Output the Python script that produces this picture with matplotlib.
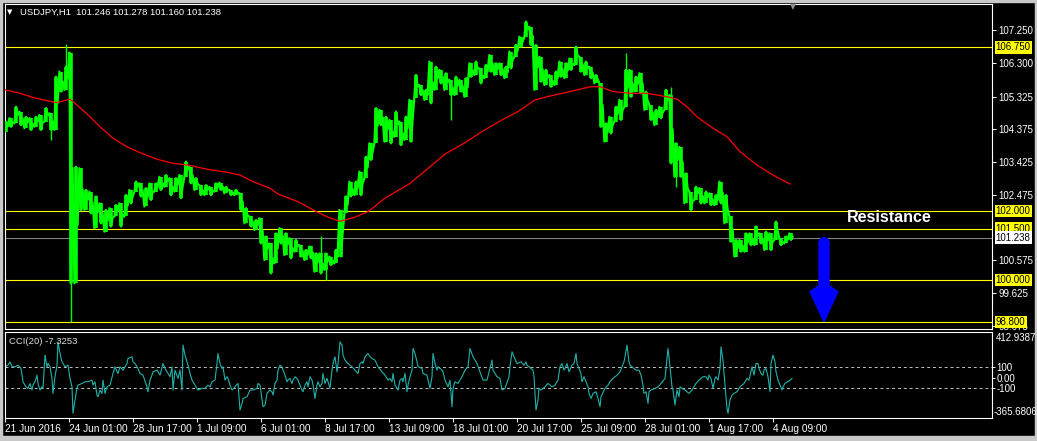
import matplotlib
matplotlib.use('Agg')
import matplotlib.pyplot as plt
from matplotlib.patches import FancyArrow, Ellipse, Rectangle
import numpy as np

plt.rcParams['font.family'] = ['Liberation Sans', 'DejaVu Sans']

# ---- data (USDJPY H1, 5-hour groups of bars) ----
bar_hi = [104.60, 104.70, 105.03, 104.89, 104.74, 104.70, 104.74, 104.79, 104.99, 104.84,
          105.90, 106.05, 106.19, 106.60, 103.29, 103.25, 102.62, 102.57, 102.43, 102.23,
          102.04, 102.09, 102.18, 102.23, 102.47, 102.62, 102.86, 102.81, 102.67, 102.81,
          102.81, 103.00, 103.05, 102.96, 102.96, 103.05, 103.44, 103.29, 102.96, 102.76,
          102.76, 102.71, 102.81, 102.83, 102.71, 102.62, 102.62, 102.52, 102.09, 101.85,
          101.75, 101.80, 101.27, 101.07, 101.36, 101.51, 101.36, 101.22, 101.17, 101.02,
          100.88, 100.98, 100.78, 100.78, 100.78, 100.69, 100.88, 102.04, 102.43, 102.86,
          102.86, 103.15, 103.58, 103.97, 104.99, 104.94, 104.74, 104.65, 104.89, 104.60,
          104.74, 105.23, 105.95, 105.66, 105.52, 106.34, 106.19, 106.10, 106.00, 105.81,
          105.90, 105.81, 105.86, 106.29, 106.34, 106.14, 106.24, 106.53, 106.29, 106.29,
          106.19, 106.63, 106.82, 107.06, 107.50, 107.35, 106.82, 106.48, 106.10, 105.95,
          106.05, 106.34, 106.29, 106.43, 106.77, 106.48, 106.34, 106.19, 105.95, 105.71,
          104.55, 104.74, 105.03, 105.23, 106.10, 106.10, 105.90, 106.00, 105.47, 105.08,
          104.94, 105.03, 105.52, 105.37, 103.97, 103.87, 103.10, 102.57, 102.71, 102.67,
          102.57, 102.52, 102.47, 102.86, 102.47, 101.85, 101.17, 101.17, 101.36, 101.36,
          101.56, 101.36, 101.41, 101.36, 101.70, 101.22, 101.27, 101.36]
bar_lo = [104.31, 104.45, 104.55, 104.50, 104.41, 104.36, 104.45, 104.36, 104.60, 104.36,
          104.36, 105.47, 105.52, 99.91, 99.91, 102.04, 102.04, 101.94, 101.51, 101.65,
          101.41, 101.56, 101.85, 101.56, 101.85, 102.23, 102.57, 102.43, 102.14, 102.33,
          102.57, 102.62, 102.71, 102.47, 102.57, 102.38, 103.00, 102.81, 102.62, 102.47,
          102.47, 102.47, 102.57, 102.62, 102.52, 102.47, 102.47, 102.04, 101.65, 101.56,
          101.46, 101.07, 100.59, 100.20, 100.49, 101.07, 100.73, 100.64, 100.83, 100.69,
          100.59, 100.64, 100.25, 100.20, 100.30, 100.44, 100.49, 100.69, 101.94, 102.43,
          102.47, 102.47, 102.96, 103.49, 103.97, 104.50, 104.02, 103.97, 104.16, 103.92,
          104.07, 104.02, 105.28, 105.37, 105.23, 105.13, 105.52, 105.71, 105.52, 105.37,
          105.37, 105.47, 105.32, 105.90, 105.95, 105.71, 105.86, 106.05, 105.95, 105.95,
          105.86, 106.14, 106.48, 106.77, 107.06, 106.82, 105.52, 105.76, 105.66, 105.61,
          105.66, 105.90, 105.86, 106.10, 106.24, 106.05, 105.95, 105.86, 105.71, 104.45,
          104.02, 104.26, 104.60, 104.65, 105.03, 105.32, 105.47, 105.42, 104.94, 104.65,
          104.50, 104.70, 104.94, 103.39, 103.00, 103.00, 102.23, 102.04, 102.33, 102.23,
          102.23, 102.18, 102.18, 102.23, 101.65, 101.12, 100.69, 100.83, 100.83, 101.02,
          101.02, 101.07, 100.88, 100.88, 101.17, 101.02, 101.07, 101.17]

# thin wicks reaching beyond a group's body
spike_grp = [9, 12, 13, 63, 64, 89, 124, 133, 134]
spike_val = [104.07, 106.85, 98.80, 101.27, 100.01, 104.65, 106.58, 105.61, 102.71]

# moving average (red)
ma_idx = [0, 15, 28, 38, 52, 65, 72, 85, 95, 108, 122, 135, 152, 168, 183, 202, 222, 235,
          248, 265, 273, 293, 310, 323, 335, 350, 363, 380, 405, 427, 440, 460, 477, 497,
          513, 530, 545, 565, 585, 595, 608, 625, 642, 662, 672, 682, 692, 708, 722, 735,
          752, 768, 785]
ma_val = [105.52, 105.42, 105.30, 105.23, 105.15, 105.25, 105.08, 104.74, 104.45, 104.12,
          103.87, 103.70, 103.51, 103.39, 103.34, 103.22, 103.13, 103.05, 102.86, 102.67,
          102.50, 102.28, 102.01, 101.83, 101.71, 101.83, 101.99, 102.38, 102.81, 103.34,
          103.66, 103.99, 104.31, 104.65, 104.89, 105.23, 105.34, 105.47, 105.61, 105.61,
          105.47, 105.42, 105.42, 105.32, 105.25, 105.03, 104.74, 104.41, 104.16, 103.73,
          103.34, 103.05, 102.79]

# CCI(20)
cci_idx = [0, 3, 5, 7, 10, 13, 16, 18, 21, 23,
           25, 27, 28, 30, 32, 33, 35, 37, 38, 40,
           42, 43, 45, 47, 48, 50, 52, 53, 55, 57,
           60, 63, 65, 67, 68, 70, 72, 73, 77, 80,
           83, 87, 88, 90, 92, 93, 95, 97, 98, 100,
           102, 105, 108, 110, 112, 113, 115, 118, 122, 123,
           127, 128, 130, 133, 135, 138, 142, 143, 145, 147,
           148, 152, 155, 158, 160, 162, 165, 167, 168, 170,
           173, 175, 177, 178, 180, 183, 185, 187, 190, 193,
           197, 200, 203, 205, 207, 210, 212, 213, 215, 217,
           218, 220, 222, 223, 225, 227, 230, 233, 235, 237,
           238, 242, 245, 248, 252, 253, 255, 257, 258, 260,
           262, 265, 267, 268, 270, 272, 273, 275, 277, 278,
           280, 282, 283, 285, 287, 288, 290, 292, 293, 297,
           298, 300, 302, 303, 305, 307, 308, 310, 312, 313,
           315, 317, 318, 320, 322, 325, 327, 328, 330, 332,
           333, 335, 337, 338, 340, 343, 347, 350, 353, 355,
           357, 358, 360, 363, 365, 367, 370, 373, 377, 380,
           383, 385, 387, 388, 390, 393, 395, 397, 398, 400,
           402, 403, 405, 407, 408, 410, 412, 413, 417, 418,
           422, 425, 427, 428, 430, 432, 433, 437, 438, 440,
           443, 445, 447, 448, 450, 453, 457, 460, 463, 465,
           468, 472, 475, 478, 482, 487, 488, 492, 495,
           497, 500, 504, 505, 507, 509, 512, 516, 519, 521,
           522, 526, 528, 529, 531, 533, 534, 536, 540, 543,
           547, 550, 553, 555, 557, 559, 560, 562, 564, 567,
           569, 571, 572, 576, 577, 579, 581, 583, 584, 586,
           588, 591, 593, 595, 596, 600, 603, 605, 608, 612,
           615, 619, 620, 622, 624, 625, 627, 631, 634, 636,
           638, 639, 641, 643, 644, 646, 650, 653, 656, 660,
           662, 663, 665, 667, 668, 670, 672, 674, 675, 677,
           680, 684, 687, 691, 694, 698, 701, 703, 704, 706,
           708, 710, 711, 713, 715, 716, 718, 720, 722, 723,
           725, 727, 729, 732, 735, 739, 742, 744, 747, 749,
           751, 753, 754, 756, 758, 759, 761, 763, 765, 766,
           768, 770, 771, 773, 775, 777, 778, 780, 782, 783,
           785, 787]
cci_val = [105, 120, 152, 105, 105, 120, 89, -38, -86, -101,
           -54, -117, -70, -38, 25, -54, -117, -86, -101, 216,
           105, 136, 105, -6, -149, 10, 120, 342, 231, 152,
           105, 120, -6, -86, -339, -212, -101, -70, -54, -38,
           -38, -22, -70, -38, -165, -181, -117, -149, -22, -149,
           -86, -70, 41, 105, 57, 41, 105, 73, 136, 184,
           200, 152, 136, 89, 41, 25, -86, -133, -22, 25,
           57, 73, 25, 136, 89, 57, 10, 105, -117, 73,
           -6, 73, -117, 311, 216, 120, 41, -22, -70, -117,
           -101, -101, -70, -86, -38, -22, 136, 231, 136, 89,
           105, -22, 10, -6, -70, -117, -86, -54, -307, -244,
           -197, -181, -117, -117, -101, -54, -70, -212, -276, -260,
           -149, -117, -133, -165, -54, -22, 73, 120, 105, 73,
           25, -38, -22, -6, -54, -22, 10, -6, -22, -117,
           -133, -70, -38, -86, 10, -22, -70, -197, -70, -38,
           -86, -54, 41, -54, -6, -101, 73, 136, 200, 57,
           136, 342, 311, 216, 168, 136, 105, 73, 41, 136,
           152, 136, 200, 231, 200, 184, 168, 105, 57, 25,
           -22, -6, -38, 41, -70, -117, -22, -6, -38, 41,
           -133, -70, 10, 73, 279, 231, 152, 105, 89, 41,
           25, -101, 10, 231, 136, 73, 105, 73, 57, -22,
           -86, -22, -276, -101, -38, -54, 10, 73, 105, 279,
           200, 136, 57, -22, -22, 168, 73, 10, -6,
           -117, -101, 10, 105, 247, 200, 136, 152, 120, 152,
           120, 89, 73, 10, -307, -212, -101, -117, -86, -54,
           -86, -70, -22, 105, 136, 73, 89, 136, 57, 120,
           136, 231, 136, 41, -38, 10, -38, -86, -149, -197,
           -149, -133, -197, -276, -181, -101, -70, -38, -6, 25,
           57, 152, 200, 311, 152, 120, 105, 73, 73, 25,
           -70, -149, -133, -244, -133, -117, -101, -86, -54, -6,
           184, 279, 105, -86, -117, -260, -117, -181, -86, -101,
           -117, -149, -117, -54, -22, 10, 10, -22, 25, -6,
           -101, -6, 10, -22, 89, 295, 168, -70, -292, -339,
           -212, -165, -149, -133, -86, -54, -6, -22, 105, 25,
           136, 136, 89, 41, 25, 73, 89, 10, -133, 136,
           216, 152, 57, -22, -70, -117, -86, -54, -38, -38,
           -22, -7]

levels = [106.750, 102.000, 101.500, 100.000, 98.800]
bid = 101.238
price_ticks = [98.675, 99.625, 100.575, 102.475, 103.425, 104.375, 105.325, 106.300, 107.250]
time_idx = [0, 64, 128, 192, 256, 320, 384, 448, 512, 576, 640, 704, 768]
time_lbl = ['21 Jun 2016', '24 Jun 01:00', '28 Jun 17:00', '1 Jul 09:00', '6 Jul 01:00',
            '8 Jul 17:00', '13 Jul 09:00', '18 Jul 01:00', '20 Jul 17:00', '25 Jul 09:00',
            '28 Jul 01:00', '1 Aug 17:00', '4 Aug 09:00']

# ---- figure ----
W, H = 1037, 441
fig = plt.figure(figsize=(W / 100, H / 100), dpi=100, facecolor='black')


def fx(px):
    return px / W


def fy(py):
    return 1 - py / H


ax = fig.add_axes([fx(4.5), fy(329.3), fx(992.3) - fx(4.5), fy(4.3) - fy(329.3)])
ax2 = fig.add_axes([fx(4.5), fy(418.3), fx(992.3) - fx(4.5), fy(331.7) - fy(418.3)])

for a in (ax, ax2):
    a.set_facecolor('black')
    a.set_xlim(-0.5, 987.3)
    for s in a.spines.values():
        s.set_color('white')
        s.set_linewidth(0.8)

# main price panel
ax.set_ylim(98.58, 108.0)
bar_x = np.arange(len(bar_hi)) * 5 + 1
for lv in levels:
    ax.axhline(lv, color='#ffff00', lw=0.8, zorder=1)
ax.axhline(bid, color='#808080', lw=0.8, zorder=1)

hi = np.array(bar_hi)
lo = np.array(bar_lo)
green = '#00ff00'
ax.vlines(bar_x, lo, hi, color=green, lw=2.6, zorder=3)
# zig-zag through each group's range so neighbouring groups join like hourly bars
zx = np.column_stack([bar_x - 1.6, bar_x, bar_x + 1.6]).ravel()
up = np.arange(len(hi)) % 2 == 0
zy = np.column_stack([np.where(up, lo, hi), np.where(up, hi, lo), (hi + lo) / 2]).ravel()
ax.plot(zx, zy, color=green, lw=1.6, zorder=3)
sx = bar_x[spike_grp]
smid = (hi[spike_grp] + lo[spike_grp]) / 2
ax.vlines(sx, smid, spike_val, color=green, lw=1.0, zorder=3)

ax.plot(ma_idx, ma_val, color='#ff0000', lw=0.9, zorder=4)

ax.yaxis.tick_right()
ax.set_yticks(price_ticks)
ax.set_yticklabels([f'{t:.3f}' for t in price_ticks])
ax.tick_params(axis='y', colors='white', length=3, width=0.7, pad=1.5, labelsize=7)
ax.tick_params(axis='x', bottom=False, labelbottom=False)

for lv in levels:
    ax.text(1.0035, lv, f'{lv:.3f}', transform=ax.get_yaxis_transform(), va='center',
            ha='left', fontsize=7, color='black', clip_on=False, zorder=6,
            bbox=dict(boxstyle='square,pad=0.12', fc='#ffff00', ec='none'))
ax.text(1.0035, bid, f'{bid:.3f}', transform=ax.get_yaxis_transform(), va='center',
        ha='left', fontsize=7, color='black', clip_on=False, zorder=6,
        bbox=dict(boxstyle='square,pad=0.12', fc='white', ec='none'))

ax.text(884, 101.81, 'Resistance', ha='center', va='center', color='white',
        fontsize=11.5, fontweight='bold', zorder=6)

# blue down arrow
ax.add_patch(FancyArrow(819, 101.09, 0, -2.29, width=10, head_width=28, head_length=0.87,
                        overhang=-0.2, length_includes_head=True, color='#0000ff', zorder=5))
ax.add_patch(Ellipse((819, 101.09), 10, 0.29, color='#0000ff', zorder=5))

# CCI panel
ax2.set_ylim(-386, 439)
ax2.axhline(100, color='#c0c0c0', lw=0.7, ls=(0, (3, 3)))
ax2.axhline(-100, color='#c0c0c0', lw=0.7, ls=(0, (3, 3)))
ax2.plot(cci_idx, cci_val, color='#20b2aa', lw=0.8)
ax2.yaxis.tick_right()
ax2.set_yticks([100, 0, -100])
ax2.set_yticklabels(['100', '0.00', '-100'])
ax2.tick_params(axis='y', colors='white', length=2, width=0.7, pad=1, labelsize=7)
ax2.set_xticks(time_idx)
ax2.set_xticklabels(time_lbl)
plt.setp(ax2.get_xticklabels(), ha='left')
ax2.tick_params(axis='x', colors='white', length=3, width=0.7, pad=1.2, labelsize=7.3)

fig.text(fx(995.5), fy(337.7), '412.9387', color='white', fontsize=7, va='center')
fig.text(fx(993.5), fy(412.3), '-365.6806', color='white', fontsize=7, va='center')

# header texts
fig.text(fx(7), fy(12.5), '\u25BC', color='white', fontsize=5, va='center', family='DejaVu Sans')
fig.text(fx(20.5), fy(12.5), 'USDJPY,H1  101.246 101.278 101.160 101.238', color='white',
         fontsize=6.8, va='center')
fig.text(fx(9), fy(341), 'CCI(20) -7.3253', color='#e0e0e0', fontsize=6.8, va='center')
fig.text(fx(793), fy(6.5), '\u25BC', color='#909090', fontsize=5.5, va='center', ha='center',
         family='DejaVu Sans')

# window frame
frame = '#c8c8c8'
fig.patches.extend([
    Rectangle((0, 0), 1, (H - 435.5) / H, transform=fig.transFigure, color=frame),
    Rectangle((fx(1034.5), 0), 1, 1, transform=fig.transFigure, color=frame),
    Rectangle((0, fy(1.5)), 1, 1, transform=fig.transFigure, color=frame),
    Rectangle((0, 0), fx(1.5), 1, transform=fig.transFigure, color=frame),
])

fig.savefig('out.png', dpi=100, facecolor='black')
